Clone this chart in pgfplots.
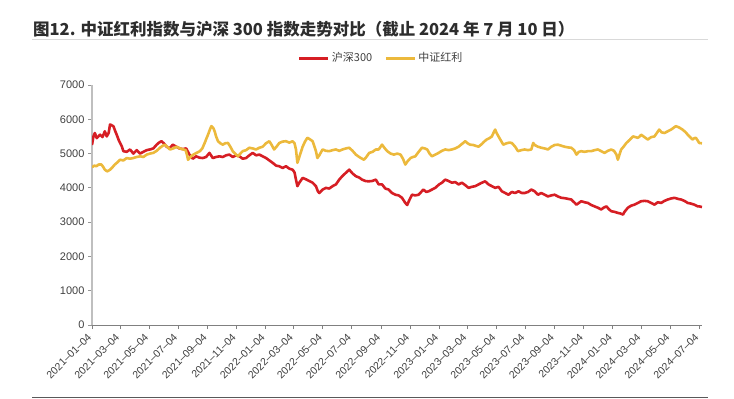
\documentclass[border=0pt]{standalone}
\usepackage{fontspec}
\setmainfont{Liberation Sans}
\newfontfamily\cjk{Noto Sans CJK SC}
\usepackage{pgfplots}
\pgfplotsset{compat=1.18}
\definecolor{hsred}{RGB}{214,30,36}
\definecolor{hlyellow}{RGB}{236,185,60}
\definecolor{txtgray}{RGB}{64,64,64}
\begin{document}
\begin{tikzpicture}[x=1pt,y=1pt]
\path[use as bounding box] (0,0) rectangle (734,399);
\node[anchor=west,inner sep=0pt,text={rgb,255:red,45;green,45;blue,45},font=\cjk\bfseries\fontsize{16.5}{19}\selectfont] at (33,370) {图12. 中证红利指数与沪深 300 指数走势对比（截止 2024 年 7 月 10 日）};
\draw[color={rgb,255:red,217;green,217;blue,217},line width=0.8pt] (32,359.7) -- (708,359.7);
\draw[color={rgb,255:red,89;green,89;blue,89},line width=1pt] (32,1.5) -- (708,1.5);
\begin{axis}[
  at={(92pt,74pt)}, anchor=south west,
  scale only axis, width=610pt, height=240pt,
  xmin=0, xmax=1283, ymin=0, ymax=7000,
  axis x line*=bottom, axis y line*=left,
  x axis line style={color={rgb,255:red,128;green,128;blue,128},line width=1pt},
  y axis line style={color={rgb,255:red,191;green,191;blue,191},line width=1.3pt},
  tick align=outside, major tick length=4pt,
  xtick style={color={rgb,255:red,128;green,128;blue,128},line width=0.8pt},
  ytick style={color={rgb,255:red,150;green,150;blue,150},line width=0.8pt},
  ytick={0,1000,...,7000},
  yticklabel style={/pgf/number format/set thousands separator={},/pgf/number format/assume math mode=true},
  xtick={0,59,120,181,243,304,365,424,485,546,608,669,730,789,850,911,973,1034,1095,1155,1216,1277},
  xticklabels={2021--01--04,2021--03--04,2021--05--04,2021--07--04,2021--09--04,2021--11--04,2022--01--04,2022--03--04,2022--05--04,2022--07--04,2022--09--04,2022--11--04,2023--01--04,2023--03--04,2023--05--04,2023--07--04,2023--09--04,2023--11--04,2024--01--04,2024--03--04,2024--05--04,2024--07--04},
  xticklabel style={yshift=-4pt,rotate=45,anchor=east,font=\fontsize{10.5}{12}\selectfont,text=txtgray},
  yticklabel style={font=\fontsize{11}{13}\selectfont,text=txtgray},
  legend style={at={(0.474,1.1125)},anchor=center,draw=none,fill=none,legend columns=2,
    font=\cjk\fontsize{11}{13}\selectfont,text=txtgray,
    /tikz/every even column/.append style={column sep=10pt}},
  legend image code/.code={\draw[#1,line width=3pt] (0pt,0pt) -- (29pt,0pt);},
]
\addplot[color=hsred,line width=2.6pt,line join=round] coordinates {
(0,5250)(3,5500)(6,5600)(10,5450)(17,5550)(22,5480)(27,5650)(31,5500)(35,5600)(38,5850)(42,5820)(45,5800)(49,5650)(52,5550)(56,5400)(59,5310)(63,5200)(66,5070)(73,5050)(80,5120)(87,5000)(94,5100)(101,5000)(108,5050)(115,5100)(122,5120)(129,5150)(136,5260)(141,5320)(146,5360)(151,5300)(157,5200)(163,5150)(170,5260)(177,5200)(184,5150)(191,5130)(198,5150)(205,4970)(212,4850)(219,4920)(226,4880)(233,4870)(240,4900)(247,5020)(254,4870)(261,4900)(268,4920)(275,4900)(282,4950)(289,4970)(296,4900)(303,4950)(310,4920)(317,4850)(324,4870)(331,4950)(338,5020)(345,4950)(352,4970)(359,4920)(366,4870)(373,4800)(380,4730)(387,4650)(394,4630)(401,4580)(408,4630)(415,4560)(422,4530)(426,4450)(429,4240)(432,4050)(436,4150)(443,4290)(450,4250)(457,4200)(464,4150)(471,4050)(475,3900)(478,3850)(485,3950)(492,4000)(499,3980)(506,4050)(513,4100)(520,4240)(527,4350)(534,4440)(541,4530)(548,4420)(555,4340)(562,4300)(568,4240)(575,4200)(582,4190)(589,4200)(597,4240)(603,4100)(610,4100)(617,3980)(624,3950)(631,3850)(638,3800)(645,3780)(652,3710)(659,3560)(663,3500)(666,3600)(673,3800)(680,3780)(687,3800)(697,3950)(703,3880)(708,3900)(715,3950)(722,4000)(730,4100)(736,4150)(743,4240)(750,4200)(757,4150)(764,4170)(771,4100)(778,4150)(785,4080)(792,4000)(799,4030)(806,4050)(813,4100)(820,4150)(827,4190)(834,4100)(841,4050)(848,4000)(855,4030)(862,3900)(869,3850)(876,3800)(883,3880)(890,3850)(897,3900)(904,3850)(910,3850)(917,3880)(924,3950)(931,3900)(938,3800)(945,3850)(952,3800)(959,3750)(966,3780)(973,3800)(980,3750)(987,3710)(994,3700)(1001,3680)(1008,3660)(1014,3580)(1019,3510)(1024,3560)(1029,3610)(1036,3580)(1043,3560)(1050,3500)(1057,3460)(1064,3420)(1071,3370)(1076,3420)(1082,3460)(1087,3380)(1092,3320)(1099,3300)(1106,3270)(1112,3250)(1117,3220)(1120,3300)(1127,3420)(1134,3480)(1141,3510)(1148,3560)(1155,3610)(1162,3620)(1169,3610)(1176,3560)(1183,3510)(1190,3580)(1197,3560)(1204,3620)(1211,3660)(1218,3690)(1225,3710)(1232,3680)(1239,3660)(1246,3620)(1253,3560)(1260,3540)(1267,3510)(1274,3460)(1277,3460)(1283,3440)
};
\addlegendentry{沪深300}
\addplot[color=hlyellow,line width=2.6pt,line join=round] coordinates {
(0,4600)(5,4650)(9,4630)(14,4680)(20,4680)(24,4600)(27,4530)(32,4480)(38,4530)(43,4600)(48,4680)(54,4750)(59,4820)(66,4800)(73,4870)(80,4850)(87,4870)(94,4900)(101,4920)(108,4900)(115,4970)(122,5000)(129,5020)(136,5080)(143,5170)(148,5220)(153,5260)(158,5200)(164,5120)(171,5150)(178,5200)(185,5150)(192,5120)(197,5100)(200,4950)(202,4820)(207,4900)(213,4970)(220,5020)(227,5070)(232,5150)(237,5310)(241,5450)(244,5550)(248,5700)(251,5800)(255,5750)(258,5650)(261,5500)(265,5360)(270,5300)(275,5260)(280,5300)(286,5310)(291,5200)(296,5070)(301,5000)(307,4920)(312,5000)(317,5070)(324,5100)(331,5170)(338,5150)(345,5120)(352,5170)(359,5200)(366,5300)(373,5360)(378,5250)(383,5120)(388,5200)(394,5310)(401,5350)(408,5360)(415,5320)(422,5360)(426,5300)(429,5120)(432,4730)(436,4900)(443,5200)(448,5350)(453,5460)(458,5420)(464,5360)(468,5200)(471,5070)(474,4870)(478,4950)(485,5120)(492,5080)(499,5070)(506,5100)(513,5120)(520,5080)(527,5120)(534,5150)(541,5170)(548,5080)(555,4970)(562,4900)(568,4850)(572,4820)(577,4900)(583,5020)(590,5050)(597,5120)(603,5120)(610,5260)(616,5150)(621,5070)(628,5000)(635,4970)(642,5000)(649,4970)(654,4850)(659,4680)(664,4780)(670,4870)(675,4900)(680,4920)(687,5050)(694,5170)(700,5150)(705,5120)(710,5000)(715,4920)(722,4970)(729,5020)(736,5080)(743,5120)(750,5100)(757,5120)(764,5150)(771,5200)(778,5280)(785,5360)(790,5300)(795,5260)(802,5250)(813,5200)(820,5280)(825,5350)(830,5410)(836,5450)(841,5500)(845,5620)(848,5700)(851,5600)(855,5500)(860,5380)(865,5260)(872,5300)(878,5320)(883,5310)(890,5200)(896,5070)(903,5100)(910,5120)(917,5100)(924,5120)(928,5310)(931,5250)(938,5200)(945,5170)(952,5150)(959,5120)(966,5200)(973,5250)(980,5260)(987,5230)(994,5200)(1001,5180)(1008,5170)(1014,5100)(1019,4970)(1024,5050)(1029,5070)(1036,5050)(1043,5070)(1050,5070)(1057,5100)(1064,5120)(1071,5070)(1078,5020)(1085,5080)(1092,5120)(1098,5080)(1103,4970)(1106,4820)(1109,4950)(1113,5120)(1118,5200)(1124,5310)(1131,5400)(1138,5500)(1143,5480)(1148,5460)(1152,5500)(1155,5550)(1162,5480)(1169,5410)(1176,5480)(1183,5500)(1188,5600)(1193,5700)(1198,5620)(1204,5600)(1211,5650)(1218,5700)(1223,5750)(1228,5800)(1235,5760)(1242,5700)(1248,5630)(1253,5550)(1258,5480)(1263,5410)(1267,5450)(1270,5460)(1274,5380)(1277,5310)(1283,5300)
};
\addlegendentry{中证红利}
\end{axis}
\end{tikzpicture}
\end{document}
